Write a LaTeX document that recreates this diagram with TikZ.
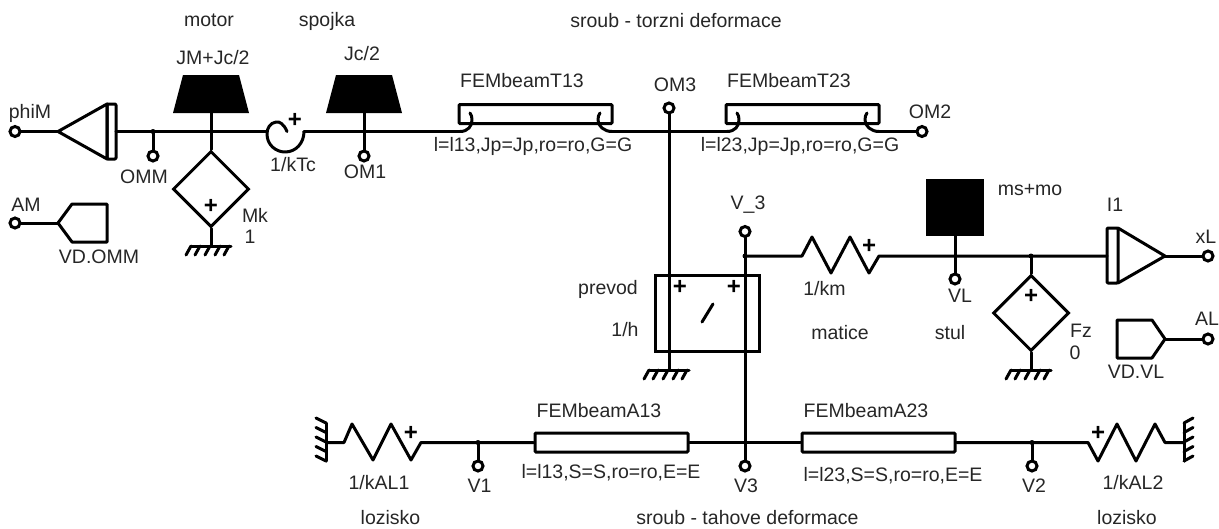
\documentclass[tikz,border=0pt]{standalone}
\usepackage{fontspec}
\setmainfont{Liberation Sans}
\usetikzlibrary{shapes.geometric}
\tikzset{
  wire/.style={line width=3pt,line join=round,line cap=round},
  term/.style={circle,draw,fill=white,line width=3pt,minimum size=10pt,inner sep=0pt},
  lab/.style={font=\fontsize{19.5}{21}\selectfont,inner sep=0pt,text=black!85},
  plusm/.style={font=\fontsize{24}{24}\bfseries\selectfont,inner sep=0pt},
  source/.style={diamond,draw,line width=3pt,fill=white,inner sep=0pt,minimum width=76pt,minimum height=76pt,aspect=1},
  beam/.style={rectangle,draw,line width=3pt,inner sep=0pt,minimum width=153pt,minimum height=19pt,rounded corners=1pt},
  dot/.style={circle,fill=black,inner sep=0pt,minimum size=5pt},
}
\newcommand{\gnd}[2]{% ground symbol below (#1,#2)
  \draw[wire] (#1-20,#2) -- (#1+20,#2);
  \foreach \q in {-20,-11,-1,9,18}{\draw[wire] (#1+\q,#2) -- ++(-5,9);}}
\newcommand{\massat}[2]{\fill (#1-28,75) -- (#1+28,75) -- (#1+38,113) -- (#1-38,113) -- cycle; \coordinate (#2) at (#1,113);}
\begin{document}
\begin{tikzpicture}[x=1pt,y=-1pt]
\useasboundingbox (0,0) rectangle (1219,528);
% --- named nodes
\massat{211}{JM}
\massat{364}{Jc}
\node[fill=black,inner sep=0pt,minimum width=58pt,minimum height=57pt] (ms) at (955,207.5) {};
\node[source] (Mk) at (211,189) {};
\node[source] (Fz) at (1031,313) {};
\node[beam] (T13) at (535.5,114) {};
\node[beam] (T23) at (802.5,114) {};
\node[beam] (A13) at (611.5,442.5) {};
\node[beam] (A23) at (878.5,442.5) {};
\node[rectangle,draw,line width=3pt,inner sep=0pt,minimum width=104pt,minimum height=76pt] (prev) at (707,313) {};
\coordinate (jOMM) at (153,131.5);
\coordinate (jM) at (211,131.5);
\coordinate (j1) at (364,131.5);
\coordinate (j3) at (669,131.5);
\coordinate (jV) at (745,256);
\coordinate (jVL) at (955,256);
\coordinate (jF) at (1031,256);
\coordinate (jV1) at (478,442.5);
\coordinate (jV3) at (745,442.5);
\coordinate (jV2) at (1032,442.5);
\coordinate (g1) at (211,246);
\coordinate (g2) at (1031,370);
\coordinate (g3) at (669,370);
\coordinate (apL) at (58,131.5);
\coordinate (apA) at (58,223);
\coordinate (apI) at (1165,256);
\coordinate (apV) at (1165,339);
\coordinate (s1a) at (802,256);
\coordinate (s1b) at (879,256);
\coordinate (sLa) at (344,442.5);
\coordinate (sLb) at (421,442.5);
\coordinate (sRa) at (1088,442.5);
\coordinate (sRb) at (1165,442.5);
\coordinate (gL) at (326,442.5);
\coordinate (gR) at (1184,442.5);
\coordinate (kL) at (267,131.5);
\coordinate (kR) at (304,131.5);
% --- phiM integrator
\draw[wire] (15,131.5) -- (apL);
\draw[wire] (apL) -- (107,104) -- (107,159) -- cycle;
\draw[wire,rounded corners=1pt] (107,104) rectangle (116,159);
\draw[wire] (116,131.5) -- (kL);
\draw[wire] (jOMM) -- (153,156);
\node[dot] at (jOMM) {};
\draw[wire] (JM) -- (Mk.north);
\draw[wire] (Mk.south) -- (g1);
\gnd{211}{246}
% --- torsion spring
\draw[wire] (287,131.5) .. controls (284,124) and (279,121) .. (276,122) .. controls (270,123) and (267,128) .. (267,134) .. controls (267,145) and (276,152) .. (285,152) .. controls (296,152) and (304,143) .. (304,131.5);
\draw[wire] (kR) -- (j1) -- (364,156);
\draw[wire] (Jc) -- (j1);
\draw[wire] (j1) -- (460,131.5);
% --- FEM T beams
\draw[wire] (460,131.5) .. controls (468,131.5) and (472,126) .. (472,120) .. controls (472,117) and (471.5,115) .. (470,113);
\draw[wire] (600,113) .. controls (598.5,115) and (598,117) .. (598,120) .. controls (598,126) and (604,131.5) .. (612,131.5);
\draw[wire] (612,131.5) -- (j3) -- (727,131.5);
\draw[wire] (727,131.5) .. controls (735,131.5) and (739,126) .. (739,120) .. controls (739,117) and (738.5,115) .. (737,113);
\draw[wire] (867,113) .. controls (865.5,115) and (865,117) .. (865,120) .. controls (865,126) and (871,131.5) .. (879,131.5);
\draw[wire] (879,131.5) -- (922,131.5);
\draw[wire] (669,108) -- (g3);
\gnd{669}{370}
% --- V_3 line
\draw[wire] (745,231.5) -- (jV3) -- (745,466);
\node[dot] at (jV) {};
\draw[wire] (jV) -- (s1a) -- (812,237) -- (831,273) -- (850,237) -- (869,273) -- (s1b) -- (jVL) -- (jF) -- (1107,256);
\draw[wire] (jVL) -- (ms.south);
\draw[wire] (jVL) -- (955,279);
\draw[wire] (jF) -- (Fz.north);
\node[dot] at (jF) {};
\draw[wire] (Fz.south) -- (g2);
\gnd{1031}{370}
\draw[wire,-] (702,322) -- (713,304);
% --- integrator I1
\draw[wire,rounded corners=1pt] (1107,228) rectangle (1118,283);
\draw[wire] (1118,228) -- (apI) -- (1118,283);
\draw[wire] (apI) -- (1208,256);
% --- derivative blocks
\draw[wire] (15,223) -- (apA);
\draw[wire] (apA) -- (72,204) -- (107,204) -- (107,242) -- (72,242) -- cycle;
\draw[wire] (apV) -- (1152,320) -- (1117,320) -- (1117,358) -- (1152,358) -- cycle;
\draw[wire] (apV) -- (1208,339);
% --- bottom line
\draw[wire] (gL) -- (sLa) -- (352,424) -- (373,460) -- (391,424) -- (411,460) -- (sLb) -- (jV1) -- (A13.west);
\draw[wire] (jV1) -- (478,466);
\node[dot] at (jV1) {};
\draw[wire] (A13.east) -- (jV3) -- (A23.west);
\draw[wire] (A23.east) -- (jV2) -- (sRa) -- (1098,461) -- (1117,424) -- (1136,461) -- (1155,424) -- (sRb) -- (gR);
\draw[wire] (jV2) -- (1032,466);
\node[dot] at (jV2) {};
\draw[wire] (326,423) -- (326,461);
\foreach \q in {423,432.5,442,451.5,461}{\draw[wire] (326,\q) -- ++(-10,-5);}
\draw[wire] (1184,423) -- (1184,461);
\foreach \q in {423,432.5,442,451.5,461}{\draw[wire] (1184,\q) -- ++(9,-5);}
% --- terminals (drawn above their wires)
\node[term] (phiM) at (15,131.5) {};
\node[term] (OMM) at (153,156) {};
\node[term] (OM1) at (364,156) {};
\node[term] (OM3) at (669,108) {};
\node[term] (OM2) at (922,131.5) {};
\node[term] (V3t) at (745,231.5) {};
\node[term] (VL) at (955,279) {};
\node[term] (xL) at (1208,256) {};
\node[term] (AL) at (1208,339) {};
\node[term] (AM) at (15,223) {};
\node[term] (V1) at (478,466) {};
\node[term] (V3) at (745,466) {};
\node[term] (V2) at (1032,466) {};
% --- plus signs
\foreach \px/\py/\pn in {211/206/pa,295/120/pb,680/287/pc,734/287/pd,869/246/pe,1031/296/pf,411/433/pg,1098/433/ph}
  \node[plusm] (\pn) at (\px,\py) {+};
% --- labels
\node[lab] (t1) at (209,20) {motor};
\node[lab] (t2) at (327,21) {spojka};
\node[lab] (t3) at (676,21) {sroub - torzni deformace};
\node[lab] (t4) at (213,58) {JM+Jc/2};
\node[lab] (t5) at (362,54) {Jc/2};
\node[lab] (t6) at (522,81) {FEMbeamT13};
\node[lab] (t7) at (675,85) {OM3};
\node[lab] (t8) at (789,81) {FEMbeamT23};
\node[lab] (t9) at (930,112) {OM2};
\node[lab] (t10) at (533,146) {l=l13,Jp=Jp,ro=ro,G=G};
\node[lab] (t11) at (800,146) {l=l23,Jp=Jp,ro=ro,G=G};
\node[lab] (t12) at (30,113) {phiM};
\node[lab] (t13) at (144,177) {OMM};
\node[lab] (t14) at (293,165) {1/kTc};
\node[lab] (t15) at (365,172) {OM1};
\node[lab] (t16) at (255,215) {Mk};
\node[lab] (t17) at (250,237) {1};
\node[lab] (t18) at (26,205) {AM};
\node[lab] (t19) at (99,257) {VD.OMM};
\node[lab] (t20) at (748,205) {V\_3};
\node[lab] (t21) at (608,289) {prevod};
\node[lab] (t22) at (625,330) {1/h};
\node[lab] (t23) at (824.5,289) {1/km};
\node[lab] (t24) at (840,333) {matice};
\node[lab] (t25) at (1030,190) {ms+mo};
\node[lab] (t26) at (1115,205) {I1};
\node[lab] (t27) at (1206,237) {xL};
\node[lab] (t28) at (1207,319) {AL};
\node[lab] (t29) at (1136,372) {VD.VL};
\node[lab] (t30) at (1081,331) {Fz};
\node[lab] (t31) at (1075,353) {0};
\node[lab] (t32) at (950,333) {stul};
\node[lab] (t33) at (960,296) {VL};
\node[lab] (t34) at (599,411) {FEMbeamA13};
\node[lab] (t35) at (611,473) {l=l13,S=S,ro=ro,E=E};
\node[lab] (t36) at (379,483) {1/kAL1};
\node[lab] (t37) at (479.5,486) {V1};
\node[lab] (t38) at (390.5,518) {lozisko};
\node[lab] (t39) at (747.5,518) {sroub - tahove deformace};
\node[lab] (t40) at (866,411) {FEMbeamA23};
\node[lab] (t41) at (893,476) {l=l23,S=S,ro=ro,E=E};
\node[lab] (t42) at (746,486) {V3};
\node[lab] (t43) at (1034,486) {V2};
\node[lab] (t44) at (1133,483) {1/kAL2};
\node[lab] (t45) at (1127,518) {lozisko};
\end{tikzpicture}
\end{document}
